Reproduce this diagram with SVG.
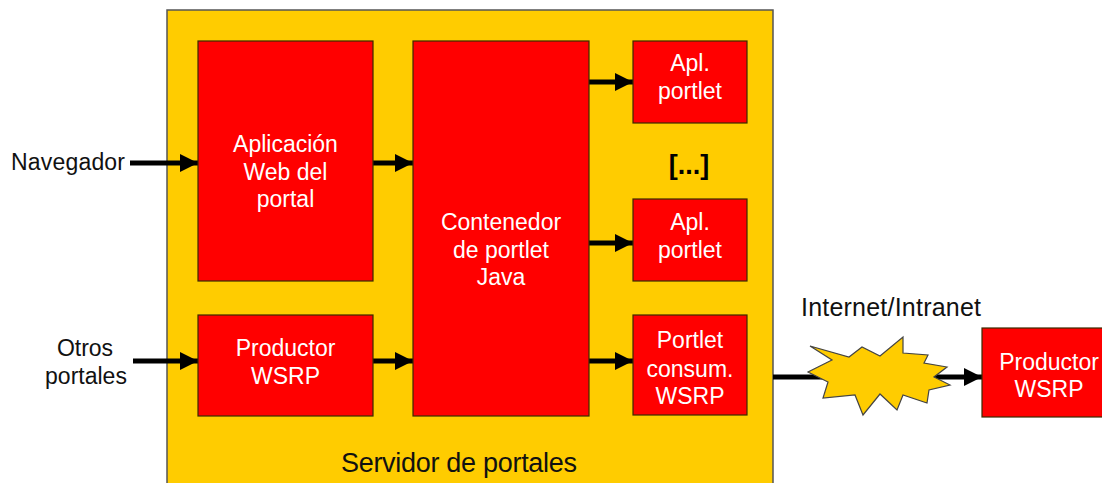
<svg xmlns="http://www.w3.org/2000/svg" width="1102" height="483" viewBox="0 0 1102 483">
  <style>
    .lbl { font-family: "Liberation Sans", Arial, sans-serif; font-size: 23px; fill: #111; }
    .wht { font-family: "Liberation Sans", Arial, sans-serif; font-size: 23px; fill: #ffffff; text-anchor: middle; }
    .box { fill: #ff0000; stroke: #3a2a00; stroke-width: 1.2; }
    .conn { stroke: #000; stroke-width: 5; fill: none; marker-end: url(#head); }
  </style>
  <defs>
    <marker id="head" markerUnits="userSpaceOnUse" markerWidth="18" markerHeight="18" refX="18" refY="9" orient="auto">
      <path d="M0,0 L18,9 L0,18 z" fill="#000"/>
    </marker>
  </defs>

  <rect width="1102" height="483" fill="#ffffff"/>

  <!-- portal server container -->
  <g id="servidor">
    <rect x="167" y="10" width="606" height="490" fill="#ffcc00" stroke="#555" stroke-width="1.5"/>
    <text class="lbl" x="459" y="472" text-anchor="middle" style="font-size:27px" textLength="236" lengthAdjust="spacing">Servidor de portales</text>
  </g>

  <!-- connectors -->
  <g id="connectors">
    <line class="conn" x1="130" y1="163" x2="198" y2="163"/>
    <line class="conn" x1="133" y1="361" x2="198" y2="361"/>
    <line class="conn" x1="373" y1="163" x2="413" y2="163"/>
    <line class="conn" x1="373" y1="361" x2="413" y2="361"/>
    <line class="conn" x1="589" y1="82" x2="633" y2="82"/>
    <line class="conn" x1="589" y1="243" x2="633" y2="243"/>
    <line class="conn" x1="589" y1="361" x2="633" y2="361"/>
    <line class="conn" x1="773" y1="377" x2="982" y2="377"/>
  </g>

  <g id="navegador">
    <text class="lbl" x="125" y="170" text-anchor="end" textLength="114" lengthAdjust="spacing">Navegador</text>
  </g>

  <g id="otros-portales">
    <text class="lbl" x="85" y="356" text-anchor="middle">Otros</text>
    <text class="lbl" x="86" y="384" text-anchor="middle">portales</text>
  </g>

  <g id="aplicacion-web">
    <rect class="box" x="198" y="41" width="175" height="240"/>
    <text class="wht" x="285.5" y="152">Aplicación</text>
    <text class="wht" x="285.5" y="180">Web del</text>
    <text class="wht" x="285.5" y="207">portal</text>
  </g>

  <g id="productor-wsrp">
    <rect class="box" x="198" y="315" width="175" height="101"/>
    <text class="wht" x="285.5" y="356">Productor</text>
    <text class="wht" x="285.5" y="384">WSRP</text>
  </g>

  <g id="contenedor">
    <rect class="box" x="413" y="41" width="176" height="375"/>
    <text class="wht" x="501" y="230">Contenedor</text>
    <text class="wht" x="501" y="258">de portlet</text>
    <text class="wht" x="501" y="285">Java</text>
  </g>

  <g id="apl-portlet-1">
    <rect class="box" x="633" y="41" width="114" height="82"/>
    <text class="wht" x="690" y="71">Apl.</text>
    <text class="wht" x="690" y="99">portlet</text>
  </g>

  <g id="elipsis">
    <text class="lbl" x="689" y="174" text-anchor="middle" style="font-size:27px;font-weight:bold;fill:#000">[...]</text>
  </g>

  <g id="apl-portlet-2">
    <rect class="box" x="633" y="199" width="114" height="82"/>
    <text class="wht" x="690" y="230">Apl.</text>
    <text class="wht" x="690" y="258">portlet</text>
  </g>

  <g id="portlet-consumidor">
    <rect class="box" x="633" y="315" width="114" height="100"/>
    <text class="wht" x="690" y="348">Portlet</text>
    <text class="wht" x="690" y="377">consum.</text>
    <text class="wht" x="690" y="404">WSRP</text>
  </g>

  <!-- network cloud -->
  <g id="internet">
    <polygon points="810,346 849,357 862,347 880,356 903,337 903,353 928,355 924,363 947,367 934,377 950,385 929,390 927,403 903,395 897,410 880,394 863,415 855,395 823,398 828,382 808,372 832,360" fill="#ffcc00" stroke="#444" stroke-width="1.2" stroke-linejoin="miter"/>
    <text class="lbl" x="891" y="316" text-anchor="middle" style="font-size:25px" textLength="180" lengthAdjust="spacing">Internet/Intranet</text>
  </g>

  <g id="productor-externo">
    <rect class="box" x="982" y="328" width="135" height="89"/>
    <text class="wht" x="1049" y="370">Productor</text>
    <text class="wht" x="1049" y="397">WSRP</text>
  </g>
</svg>
